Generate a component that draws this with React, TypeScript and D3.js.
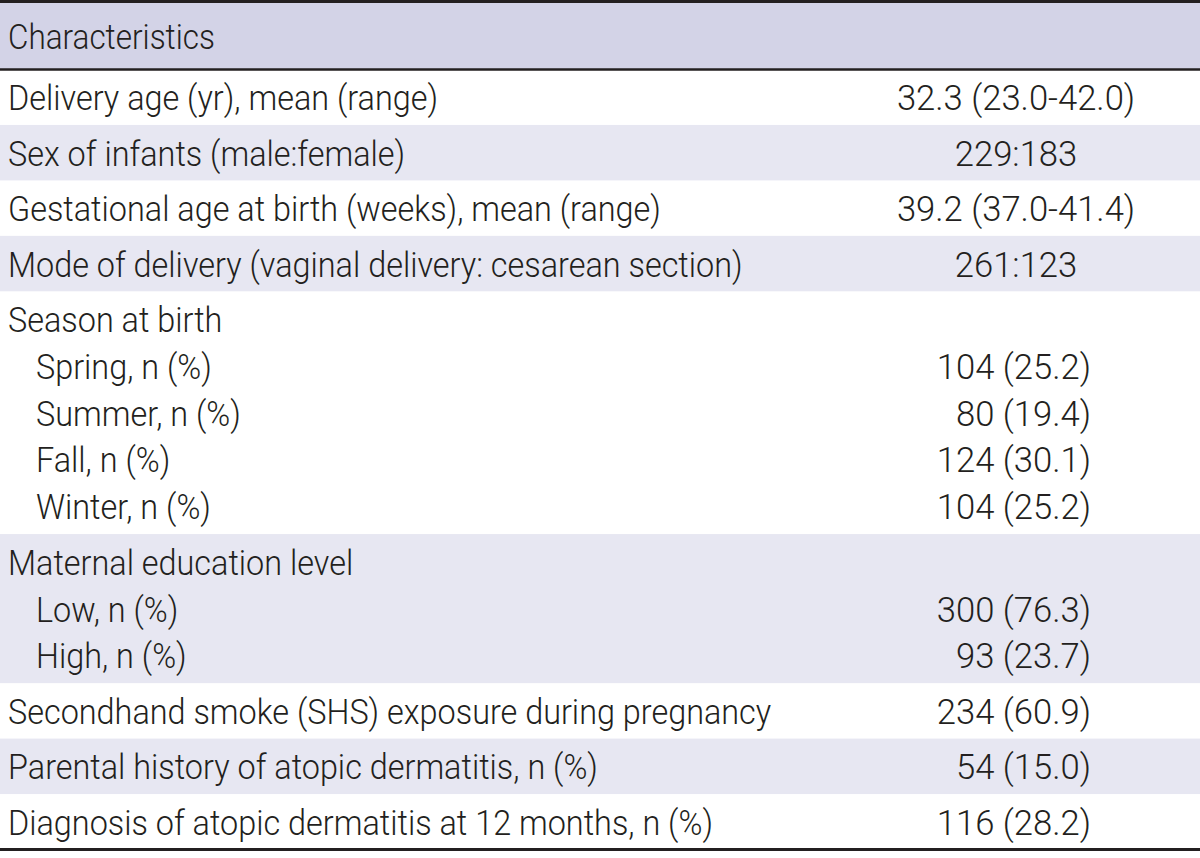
import React, { useEffect, useRef } from "react";
import * as d3 from "d3";

const headerLabel = "Characteristics";

const rowLabels = [
  "Delivery age (yr), mean (range)",
  "Sex of infants (male:female)",
  "Gestational age at birth (weeks), mean (range)",
  "Mode of delivery (vaginal delivery: cesarean section)",
  "Season at birth",
  "Spring, n (%)",
  "Summer, n (%)",
  "Fall, n (%)",
  "Winter, n (%)",
  "Maternal education level",
  "Low, n (%)",
  "High, n (%)",
  "Secondhand smoke (SHS) exposure during pregnancy",
  "Parental history of atopic dermatitis, n (%)",
  "Diagnosis of atopic dermatitis at 12 months, n (%)",
];

const rowValues = [
  "32.3 (23.0-42.0)",
  "229:183",
  "39.2 (37.0-41.4)",
  "261:123",
  "",
  "104 (25.2)",
  "80 (19.4)",
  "124 (30.1)",
  "104 (25.2)",
  "",
  "300 (76.3)",
  "93 (23.7)",
  "234 (60.9)",
  "54 (15.0)",
  "116 (28.2)",
];

// hierarchy level of each row (0 = main item, 1 = sub item)
const rowLevels = [0, 0, 0, 0, 0, 1, 1, 1, 1, 0, 1, 1, 0, 0, 0];
// which block (shaded band group) each row belongs to
const rowBlocks = [0, 1, 2, 3, 4, 4, 4, 4, 4, 5, 5, 5, 6, 7, 8];

const W = 1200;
const H = 858;
const FONT = 'Roboto, "Liberation Sans", sans-serif';
const FONT_SIZE = 36;
const TEXT = "#231f20";
const HEAD_BG = "#d3d3e7";
const BAND_BG = "#e7e7f2";

export default function App() {
  const ref = useRef<SVGSVGElement | null>(null);

  useEffect(() => {
    const svg = d3.select(ref.current);
    svg.selectAll("*").remove();

    const topY = 2;
    const headBottom = 69.5;
    const tableBottom = 849.5;
    const lineH = 46.7;
    const pad = 8.6;

    // measure the font to get a condensed look matching the reference width
    const probe = svg
      .append("text")
      .attr("font-family", FONT)
      .attr("font-size", FONT_SIZE)
      .attr("font-weight", 300)
      .text(headerLabel);
    const len = (probe.node() as SVGTextElement).getComputedTextLength() || 230;
    probe.remove();
    const sxLabel = (207 / len) * 1.03;
    const sxValue = (207 / len) * 1.1;

    const addText = (x: number, yy: number, txt: string, anchor: string, sx: number) => {
      svg
        .append("text")
        .attr("transform", `translate(${x},${yy}) scale(${sx},1)`)
        .attr("dy", "0.36em")
        .attr("text-anchor", anchor)
        .attr("font-family", FONT)
        .attr("font-size", FONT_SIZE)
        .attr("font-weight", 300)
        .attr("fill", TEXT)
        .text(txt);
    };

    const blocks = d3.groups(
      rowLabels.map((l, i) => ({ i, label: l, value: rowValues[i], level: rowLevels[i], block: rowBlocks[i] })),
      (d) => d.block
    );
    const rawHeights = blocks.map(([, rows]) => rows.length * lineH + pad);
    const total = d3.sum(rawHeights);

    const y = d3.scaleLinear().domain([0, total]).range([headBottom, tableBottom]);

    // header band
    svg.append("rect").attr("x", 0).attr("y", topY).attr("width", W).attr("height", headBottom - topY).attr("fill", HEAD_BG);
    addText(8, (topY + headBottom) / 2, headerLabel, "start", 207 / len);

    let acc = 0;
    blocks.forEach(([b, rows], bi) => {
      const h = rawHeights[bi];
      const y0 = y(acc);
      const y1 = y(acc + h);
      if (b % 2 === 1) {
        svg.append("rect").attr("x", 0).attr("y", y0).attr("width", W).attr("height", y1 - y0).attr("fill", BAND_BG);
      }
      rows.forEach((r, ri) => {
        const cy = y(acc + pad / 2 + ri * lineH + lineH / 2);
        addText(r.level === 0 ? 8 : 36, cy, r.label, "start", sxLabel);
        if (r.value) {
          const isCount = /^\d+ \(/.test(r.value);
          addText(isCount ? 1091 : 1016, cy, r.value, isCount ? "end" : "middle", sxValue);
        }
      });
      acc += h;
    });

    // rules
    svg.append("line").attr("x1", 0).attr("x2", W).attr("y1", 1.5).attr("y2", 1.5).attr("stroke", TEXT).attr("stroke-width", 3);
    svg.append("line").attr("x1", 0).attr("x2", W).attr("y1", headBottom).attr("y2", headBottom).attr("stroke", TEXT).attr("stroke-width", 2.5);
    svg.append("line").attr("x1", 0).attr("x2", W).attr("y1", tableBottom).attr("y2", tableBottom).attr("stroke", TEXT).attr("stroke-width", 3);
  }, []);

  return (
    <svg
      ref={ref}
      width={W}
      height={H}
      style={{ position: "absolute", left: 0, top: 0, background: "#ffffff" }}
    />
  );
}
